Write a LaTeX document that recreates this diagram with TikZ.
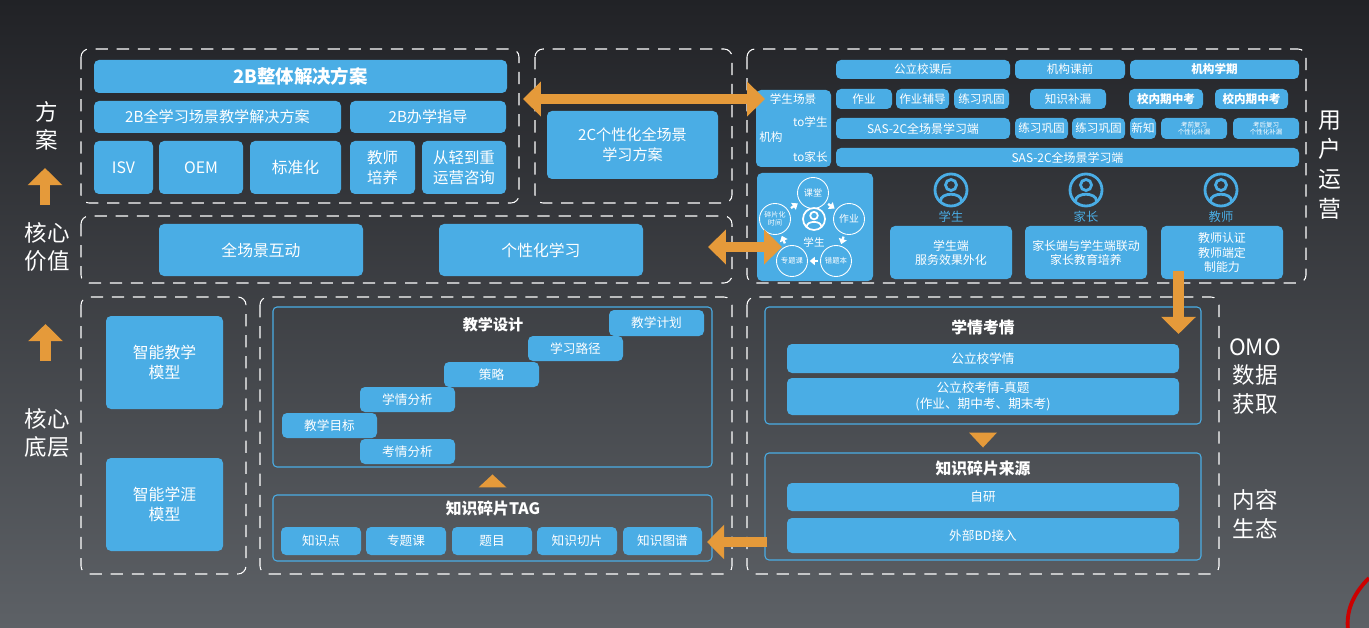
\documentclass[tikz,border=0pt]{standalone}
\usepackage{fontspec}
\setmainfont{Noto Sans CJK SC}
\usetikzlibrary{arrows.meta,calc}
\definecolor{blu}{RGB}{74,173,229}
\definecolor{orng}{RGB}{229,154,58}
\definecolor{bgtop}{RGB}{33,34,38}
\definecolor{bgbot}{RGB}{93,97,102}
\tikzset{
        blk/.style={fill=blu, text=white, rounded corners=0.1cm, inner sep=0pt, align=center},
        pane/.style={draw=blu, line width=0.6pt, rounded corners=0.08cm, inner sep=0pt},
        wd/.style={minimum width=#1*0.02cm},
        ht/.style={minimum height=#1*0.02cm},
        fs/.style={font=\fontsize{#1}{#1}\selectfont},
        fb/.style={font=\bfseries\fontsize{#1}{#1}\selectfont},
        ttl/.style={text=white, inner sep=0pt, font=\bfseries\fontsize{9pt}{10pt}\selectfont},
        sidelbl/.style={text=white, align=center, inner sep=0pt, font=\fontsize{12.8pt}{16.2pt}\selectfont},
        dashbox/.style={draw=white, line width=0.6pt, dash pattern=on 7pt off 5pt, rounded corners=0.16cm},
        ring/.style={circle, draw=white, line width=0.5pt, minimum size=0.62cm, inner sep=0pt, text=white, align=center},
        who/.style={text=blu, inner sep=0pt, font=\fontsize{7pt}{8pt}\selectfont},
        icon/.style={draw=blu, line width=1.6pt},
        fat/.style={draw=orng, line width=5.7pt, arrows={Triangle[length=10.2pt,width=19.3pt]-Triangle[length=10.2pt,width=19.3pt]}},
        push/.style={draw=orng, line width=6.2pt, arrows={-Triangle[length=9.8pt,width=19.3pt]}},
        cyctip/.style={draw=white, line width=1.3pt, arrows={-Triangle[length=3pt,width=4.6pt]}}
          }

\begin{document}
\begin{tikzpicture}[x=0.02cm, y=-0.02cm]
        \shade[top color=bgtop, bottom color=bgbot] (0,0) rectangle (1369,628);
        \useasboundingbox (0,0) rectangle (1369,628);
        \begin{scope}
          \clip (0,0) rectangle (1369,628);
          \draw[red!80!black, line width=2.2pt] (1369,578) .. controls (1352,595) and (1346,612) .. (1348,630);
        \end{scope}

        % regions
        \draw[dashbox] (81,49) rectangle (519,203);
        \draw[dashbox] (535,49) rectangle (732,203);
        \draw[dashbox] (747,49) rectangle (1306,283);
        \draw[dashbox] (81,216) rectangle (732,283);
        \draw[dashbox] (81,297) rectangle (246,574);
        \draw[dashbox] (260,297) rectangle (732,574);
        \draw[dashbox] (747,297) rectangle (1219,574);

        % side labels
        \node[sidelbl] (lblplan) at (47,126) {方\\案};
        \node[sidelbl] (lblvalue) at (47,247) {核心\\价值};
        \node[sidelbl] (lblbase) at (47,433) {核心\\底层};
        \node[sidelbl, font=\fontsize{13pt}{17pt}\selectfont] (lblops) at (1330,165) {用\\户\\运\\营};
        \node[sidelbl] (lblomo) at (1255,376.5) {OMO\\数据\\获取};
        \node[sidelbl] (lbleco) at (1255,514) {内容\\生态};

        % 2B
        \node[blk, wd=413, ht=33, fb=10.5pt] (sol2b) at (300.5,76.5) {2B整体解决方案};
        \node[blk, wd=247, ht=32, fs=8.6pt] (scene2b) at (217.5,117) {2B全学习场景教学解决方案};
        \node[blk, wd=156, ht=32, fs=8.6pt] (guide2b) at (428,117) {2B办学指导};
        \node[blk, wd=59, ht=53, fs=9pt] (isv) at (123.5,167.5) {ISV};
        \node[blk, wd=84, ht=53, fs=9pt] (oem) at (201,167.5) {OEM};
        \node[blk, wd=91, ht=53, fs=9pt] (std) at (295.5,167.5) {标准化};
        \node[blk, wd=65, ht=53, font=\fontsize{8.8pt}{11.3pt}\selectfont] (train) at (382.5,167.5) {教师\\培养};
        \node[blk, wd=84, ht=53, font=\fontsize{8.8pt}{11.3pt}\selectfont] (consult) at (464,167.5) {从轻到重\\运营咨询};

        % 2C
        \node[blk, wd=171, ht=68, font=\fontsize{8.6pt}{11.3pt}\selectfont] (plan2c) at (632.5,145) {2C个性化全场景\\学习方案};

        % core value
        \node[blk, wd=204, ht=52, fs=9pt] (allscene) at (261,250) {全场景互动};
        \node[blk, wd=204, ht=52, fs=9pt] (perslearn) at (541,250) {个性化学习};

        % user ops
        \node[blk, wd=75, ht=77] (sceneblk) at (793.5,128.5) {};
        \node[text=white, inner sep=0pt, fs=6.6pt] (sbscene) at (793,99) {学生场景};
        \node[text=white, inner sep=0pt, anchor=east, fs=6.6pt] (sbstu) at (828,122) {to学生};
        \node[text=white, inner sep=0pt, anchor=west, fs=6.6pt] (sborg) at (759,137) {机构};
        \node[text=white, inner sep=0pt, anchor=east, fs=6.6pt] (sbpar) at (828,157) {to家长};

        \node[blk, wd=174, ht=19, fs=6.6pt] (pubafter) at (923,69.5) {公立校课后};
        \node[blk, wd=110, ht=19, fs=6.6pt] (orgbefore) at (1070,69.5) {机构课前};
        \node[blk, wd=169, ht=19, fb=6.6pt] (orgterm) at (1214.5,69.5) {机构学期};

        \node[blk, wd=56, ht=20, fs=6.6pt] (hw) at (864,99) {作业};
        \node[blk, wd=53, ht=20, fs=6.6pt] (hwtutor) at (922.5,99) {作业辅导};
        \node[blk, wd=55, ht=20, fs=6.6pt] (drill) at (981.5,99) {练习巩固};
        \node[blk, wd=76, ht=20, fs=6.6pt] (gapfill) at (1068,99) {知识补漏};
        \node[blk, wd=74, ht=20, fb=6.6pt] (midexam) at (1166,99) {校内期中考};
        \node[blk, wd=73, ht=20, fb=6.6pt] (midexamb) at (1251.5,99) {校内期中考};

        \node[blk, wd=174, ht=21, fs=6.8pt] (sasa) at (923,128.5) {SAS-2C全场景学习端};
        \node[blk, wd=53, ht=21, fs=6.6pt] (drillb) at (1041.5,128.5) {练习巩固};
        \node[blk, wd=53, ht=21, fs=6.6pt] (drillc) at (1098.5,128.5) {练习巩固};
        \node[blk, wd=26, ht=21, fs=6.6pt] (newknow) at (1143,128.5) {新知};
        \node[blk, wd=66, ht=21, font=\fontsize{3.7pt}{4.3pt}\selectfont] (prerev) at (1194,128.5) {考前复习\\个性化补漏};
        \node[blk, wd=66, ht=21, font=\fontsize{3.7pt}{4.3pt}\selectfont] (postrev) at (1266,128.5) {考后复习\\个性化补漏};

        \node[blk, wd=463, ht=19, fs=6.8pt] (sasb) at (1067.5,157.5) {SAS-2C全场景学习端};

        % learning cycle
        \node[blk, wd=116, ht=108] (cyc) at (815,227) {};
        \node[ring, fs=5.2pt] (ketang) at (813,193) {课堂};
        \node[ring, fs=5.6pt] (zuoye) at (849,219) {作业};
        \node[ring, fs=4.2pt] (cuoti) at (836,261) {错题本};
        \node[ring, fs=4.2pt] (zhuanti) at (792,261) {专题课};
        \node[ring, font=\fontsize{4pt}{4.6pt}\selectfont] (suipian) at (775,219) {碎片化\\时间};
        \draw[draw=white, line width=1pt] (814,219) circle (11) (814,215.6) circle (3.8);
        \draw[draw=white, line width=1pt] (806.8,226.5) .. controls (806.8,220.4) and (821.2,220.4) .. (821.2,226.5);
        \node[text=white, inner sep=0pt, fs=6pt] (cycstu) at (814,242) {学生};
        \draw[cyctip] ($(ketang)!0.42!(zuoye)$) -- ($(ketang)!0.6!(zuoye)$);
        \draw[cyctip] ($(zuoye)!0.42!(cuoti)$) -- ($(zuoye)!0.6!(cuoti)$);
        \draw[cyctip] ($(cuoti)!0.42!(zhuanti)$) -- ($(cuoti)!0.6!(zhuanti)$);
        \draw[cyctip] ($(zhuanti)!0.42!(suipian)$) -- ($(zhuanti)!0.6!(suipian)$);
        \draw[cyctip] ($(suipian)!0.42!(ketang)$) -- ($(suipian)!0.6!(ketang)$);

        % personas
        \draw[icon] (951,190) circle (16) (951,185) circle (5.5);
        \draw[icon] (940.5,201) .. controls (940.5,192) and (961.5,192) .. (961.5,201);
        \draw[icon] (1086,190) circle (16) (1086,185) circle (5.5);
        \draw[icon] (1075.5,201) .. controls (1075.5,192) and (1096.5,192) .. (1096.5,201);
        \draw[icon] (1221,190) circle (16) (1221,185) circle (5.5);
        \draw[icon] (1210.5,201) .. controls (1210.5,192) and (1231.5,192) .. (1231.5,201);
        \node[who] (whostu) at (951,217) {学生};
        \node[who] (whopar) at (1086,217) {家长};
        \node[who] (whotea) at (1221,217) {教师};
        \node[blk, wd=122, ht=53, font=\fontsize{6.8pt}{8pt}\selectfont] (stuend) at (951,252.5) {学生端\\服务效果外化};
        \node[blk, wd=122, ht=53, font=\fontsize{6.8pt}{8pt}\selectfont] (parend) at (1086,252.5) {家长端与学生端联动\\家长教育培养};
        \node[blk, wd=122, ht=53, font=\fontsize{6.8pt}{8pt}\selectfont] (teaend) at (1222,252.5) {教师认证\\教师端定\\制能力};

        % core models
        \node[blk, wd=117, ht=93, font=\fontsize{9pt}{11.3pt}\selectfont] (teachmodel) at (164.5,362.5) {智能教学\\模型};
        \node[blk, wd=117, ht=93, font=\fontsize{9pt}{11.3pt}\selectfont] (careermodel) at (164.5,504.5) {智能学涯\\模型};

        % teaching design
        \node[pane, wd=439, ht=160] (designframe) at (492.5,387) {};
        \node[ttl, font=\bfseries\fontsize{8.6pt}{10pt}\selectfont] (designttl) at (493,325) {教学设计};
        \node[blk, wd=95, ht=26, fs=7.2pt] (tplan) at (656.5,323) {教学计划};
        \node[blk, wd=95, ht=25, fs=7.2pt] (lpath) at (575.5,348.5) {学习路径};
        \node[blk, wd=95, ht=25, fs=7.2pt] (strategy) at (491.5,374.5) {策略};
        \node[blk, wd=95, ht=25, fs=7.2pt] (learnana) at (407.5,399.5) {学情分析};
        \node[blk, wd=95, ht=25, fs=7.2pt] (tgoal) at (329.5,425.5) {教学目标};
        \node[blk, wd=95, ht=25, fs=7.2pt] (examana) at (407.5,451.5) {考情分析};

        % knowledge tags
        \node[pane, wd=439, ht=66] (tagframe) at (492.5,528) {};
        \node[ttl] (tagttl) at (493,509) {知识碎片TAG};
        \node[blk, wd=80, ht=28, fs=7.2pt] (kpoint) at (321,541) {知识点};
        \node[blk, wd=80, ht=28, fs=7.2pt] (topic) at (406,541) {专题课};
        \node[blk, wd=80, ht=28, fs=7.2pt] (question) at (492,541) {题目};
        \node[blk, wd=80, ht=28, fs=7.2pt] (kslice) at (577,541) {知识切片};
        \node[blk, wd=79, ht=28, fs=7.2pt] (kgraph) at (662.5,541) {知识图谱};
        \fill[orng] ($(tagframe.north)+(-14,-7)$) -- ++(28,0) -- ++(-14,-13) -- cycle;

        % OMO data
        \node[pane, wd=436, ht=117] (xqframe) at (983,365.5) {};
        \node[ttl] (xqttl) at (983,327) {学情考情};
        \node[blk, wd=392, ht=29, fs=7.2pt] (pubxq) at (983,358.5) {公立校学情};
        \node[blk, wd=392, ht=37, font=\fontsize{7.2pt}{9pt}\selectfont] (pubkq) at (983,396.5) {公立校考情-真题\\(作业、期中考、期末考)};
        \fill[orng] ($(xqframe.south)+(-14,8)$) -- ++(28,0) -- ++(-14,15) -- cycle;

        \node[pane, wd=436, ht=107] (srcframe) at (983,506.5) {};
        \node[ttl] (srcttl) at (983,469) {知识碎片来源};
        \node[blk, wd=392, ht=28, fs=7.2pt] (selfdev) at (983,497) {自研};
        \node[blk, wd=392, ht=35, fs=7.2pt] (extbd) at (983,535.5) {外部BD接入};

        % arrows
        \coordinate (plana) at (523,99);
        \coordinate (planb) at (765,99);
        \draw[fat] (plana) -- (planb);
        \coordinate (valuea) at (708,247);
        \coordinate (valueb) at (782,247);
        \draw[fat] (valuea) -- (valueb);
        \coordinate (risea) at (45,205);
        \coordinate (riseb) at (45,168);
        \draw[push] (risea) -- (riseb);
        \coordinate (risec) at (45.5,361);
        \coordinate (rised) at (45.5,324);
        \draw[push] (risec) -- (rised);
        \coordinate (teadown) at (1178.5,334);
        \draw[push] ($(teaend.south -| teadown)+(0,-8)$) -- (teadown);
        \coordinate (tagin) at (707,542);
        \draw[push, line width=5.7pt] ($(srcframe.west |- tagin)+(3,0)$) -- (tagin);
\end{tikzpicture}
\end{document}
